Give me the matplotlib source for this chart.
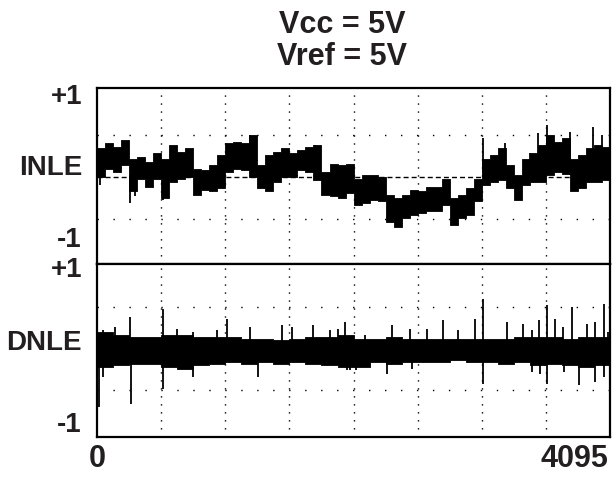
import numpy as np
import matplotlib
matplotlib.use('Agg')
import matplotlib.pyplot as plt

# INL band, one hi/lo pair per 64 codes
inl_hi = [.34, .40, .36, .44, .22, .24, .18, .28, .22, .38, .30, .34, .10, .08, .14, .26,
          .40, .42, .40, .50, .14, .26, .30, .34, .28, .32, .36, .38, .06, .16, .14, .16,
          -.02, .02, .02, .00, -.21, -.25, -.21, -.15, -.17, -.12, -.12, -.02, -.25, -.21, -.13, -.02,
          .22, .26, .34, .14, .02, .22, .28, .38, .50, .42, .46, .22, .26, .34, .38, .36]
inl_lo = [.00, .10, .06, .14, -.17, -.02, -.12, -.02, -.25, -.06, -.02, .00, -.21, -.15, -.17, -.13,
          .06, .10, .08, .00, -.13, -.17, -.06, .00, .00, .08, .06, -.04, -.21, -.23, -.25, -.19,
          -.33, -.31, -.27, -.29, -.53, -.59, -.49, -.45, -.43, -.41, -.41, -.33, -.57, -.49, -.45, -.29,
          -.10, -.06, -.04, -.13, -.27, -.10, -.06, -.06, .02, .06, .04, -.17, -.13, -.06, -.06, -.04]
inl_spike_code = [24, 263, 303, 527, 1221, 1740, 3081, 3257, 3456, 3520, 3592, 3776, 3959, 4031]
inl_spike_val = [-.10, -.31, -.23, -.27, .50, .38, .46, .40, .28, .52, .62, .54, .60, .50]

# DNL band, one hi/lo pair per 128 codes
dnl_hi = [.20, .16, .14, .14, .16, .16, .14, .14, .14, .12, .12, .10, .12, .14, .14, .16,
          .12, .12, .14, .12, .12, .12, .12, .12, .12, .12, .14, .14, .14, .12, .14, .14]
dnl_lo = [-.22, -.20, -.18, -.18, -.22, -.24, -.20, -.18, -.16, -.18, -.16, -.18, -.16, -.18, -.20, -.22,
          -.22, -.16, -.18, -.16, -.16, -.16, -.14, -.16, -.16, -.18, -.16, -.20, -.18, -.20, -.22, -.20]
dnl_up_code = [48, 144, 263, 527, 639, 766, 958, 1038, 1221, 1477, 1556, 1724, 1860, 1924, 1980, 2139,
               2355, 2498, 2634, 2762, 2882, 3017, 3081, 3273, 3400, 3472, 3528, 3592, 3656, 3720,
               3792, 3911, 3975, 4047, 4079]
dnl_up_val = [.22, .26, .38, .48, .24, .20, .22, .36, .26, .28, .26, .28, .22, .24, .32, .16,
              .28, .24, .24, .34, .22, .36, .60, .32, .30, .22, .34, .52, .36, .26,
              .50, .30, .32, .54, .20]
dnl_dn_code = [16, 48, 271, 527, 766, 1285, 1996, 2020, 2067, 2315, 2514, 3081, 3472, 3536, 3592,
               3728, 3847, 3975, 4047]
dnl_dn_val = [-.70, -.34, -.66, -.48, -.34, -.34, -.26, -.26, -.26, -.30, -.24, -.42, -.28, -.30, -.42,
              -.28, -.44, -.40, -.34]

W, H = 612, 480
INK = '#231f20'
FONT = ['Liberation Sans', 'DejaVu Sans']

fig = plt.figure(figsize=(W / 100, H / 100), dpi=100)
L, R = 97 / W, 610 / W
ax1 = fig.add_axes([L, 1 - 264 / H, R - L, 176 / H])
ax2 = fig.add_axes([L, 1 - 437 / H, R - L, 173 / H])


def band(ax, hi, lo, step):
    x = np.append(np.arange(len(hi)) * step, 4095)
    ax.fill_between(x, np.append(hi, hi[-1]), np.append(lo, lo[-1]), step='post',
                    color='black', lw=0.6, zorder=3)
    return np.array(hi), np.array(lo)


def spikes(ax, codes, vals, hi, lo, step):
    idx = np.minimum(np.array(codes) // step, len(hi) - 1)
    mid = (hi[idx] + lo[idx]) / 2
    ax.vlines(codes, mid, vals, color='black', lw=1.3, zorder=3)


for ax in (ax1, ax2):
    ax.set_xlim(0, 4095)
    for c in range(512, 4095, 512):
        ax.axvline(c, color='black', lw=1.0, ls=(0, (1, 4.75)), zorder=1)
    for v in (-0.5, 0.5):
        ax.axhline(v, color='black', lw=1.0, ls=(0, (1, 10.5)), zorder=1)
    ax.set_xticks([])
    ax.set_yticks([])
    for s in ax.spines.values():
        s.set_linewidth(1.6)

ax1.set_ylim(-1.036, 1.06)
ax2.set_ylim(-1.062, 1.014)
ax1.axhline(0, color='black', lw=1.0, ls=(0, (3.6, 2.2)), zorder=2)

hi, lo = band(ax1, inl_hi, inl_lo, 64)
spikes(ax1, inl_spike_code, inl_spike_val, hi, lo, 64)
hi, lo = band(ax2, dnl_hi, dnl_lo, 128)
spikes(ax2, dnl_up_code, dnl_up_val, hi, lo, 128)
spikes(ax2, dnl_dn_code, dnl_dn_val, hi, lo, 128)


def txt(x, y, s, ha='center', fs=20):
    fig.text(x / W, 1 - y / H, s, ha=ha, va='center', fontsize=fs, fontweight='bold',
             family=FONT, color=INK)


txt(342, 25, 'Vcc = 5V', fs=22)
txt(342, 57, 'Vref = 5V', fs=22)
txt(82, 97, '+1', 'right')
txt(82, 168, 'INLE', 'right')
txt(82, 240, '-1', 'right')
txt(82, 270, '+1', 'right')
txt(82, 343, 'DNLE', 'right')
txt(82, 425, '-1', 'right')
txt(97, 459, '0', fs=22)
txt(608, 459, '4095', 'right', fs=22)

fig.savefig('out.png', dpi=100)
